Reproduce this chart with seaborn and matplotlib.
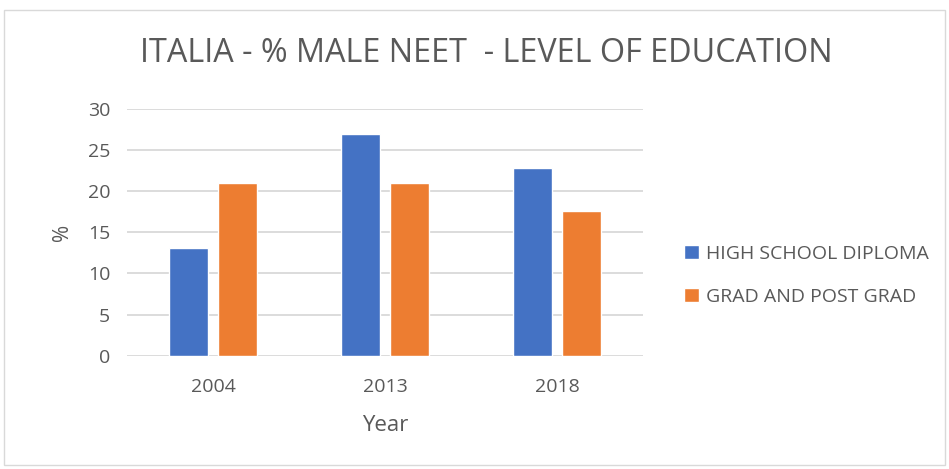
import pandas as pd
import matplotlib.pyplot as plt
import seaborn as sns
from matplotlib.patches import Rectangle

years = ["2004", "2013", "2018"]
high_school = [13.1, 26.9, 22.8]
grad_post = [21.0, 21.0, 17.6]
series_names = ["HIGH SCHOOL DIPLOMA", "GRAD AND POST GRAD"]
colors = ["#4472C4", "#ED7D31"]

df = pd.DataFrame({
    "Year": years * 2,
    "value": high_school + grad_post,
    "series": [series_names[0]] * 3 + [series_names[1]] * 3,
})

sns.set_style("white")
plt.rcParams["font.family"] = ["Open Sans", "DejaVu Sans"]
text_col = "#595959"

fig = plt.figure(figsize=(9.49, 4.69), dpi=100)
ax = fig.add_axes([127 / 949, 1 - 355.7 / 469, 516 / 949, 246.7 / 469])

sns.barplot(data=df, x="Year", y="value", hue="series", palette=colors,
            width=0.57, gap=0.212, saturation=1, ax=ax, legend=True)

ax.set_ylim(0, 30)
ax.set_xlim(-0.5, 2.5)
ax.set_yticks(range(0, 31, 5))
ax.yaxis.grid(True, color="#d9d9d9", linewidth=1.3)
ax.set_axisbelow(True)
for s in ax.spines.values():
    s.set_visible(False)
ax.tick_params(axis="both", length=0, labelsize=14, colors=text_col)
ax.tick_params(axis="x", pad=16)
ax.tick_params(axis="y", pad=12)
ax.set_xlabel("Year", fontsize=16, color=text_col, labelpad=14)
ax.set_ylabel("%", fontsize=15, color=text_col, labelpad=11)

fig.suptitle("ITALIA - % MALE NEET  - LEVEL OF EDUCATION", x=486 / 949, y=1 - 53 / 469,
             va="center", fontsize=23.3, color=text_col)

leg = ax.legend(loc="center left", bbox_to_anchor=(684 / 949, 1 - 275.5 / 469),
                bbox_transform=fig.transFigure, frameon=False, fontsize=14,
                handlelength=0.75, handleheight=0.75, handletextpad=0.4,
                labelspacing=1.3, borderaxespad=0, borderpad=0)
for t in leg.get_texts():
    t.set_color(text_col)

fig.patches.append(Rectangle((4 / 949, 4 / 469), 941 / 949, 455 / 469, transform=fig.transFigure,
                             fill=False, edgecolor="#d9d9d9", linewidth=1))

fig.savefig("out.png", dpi=100)
